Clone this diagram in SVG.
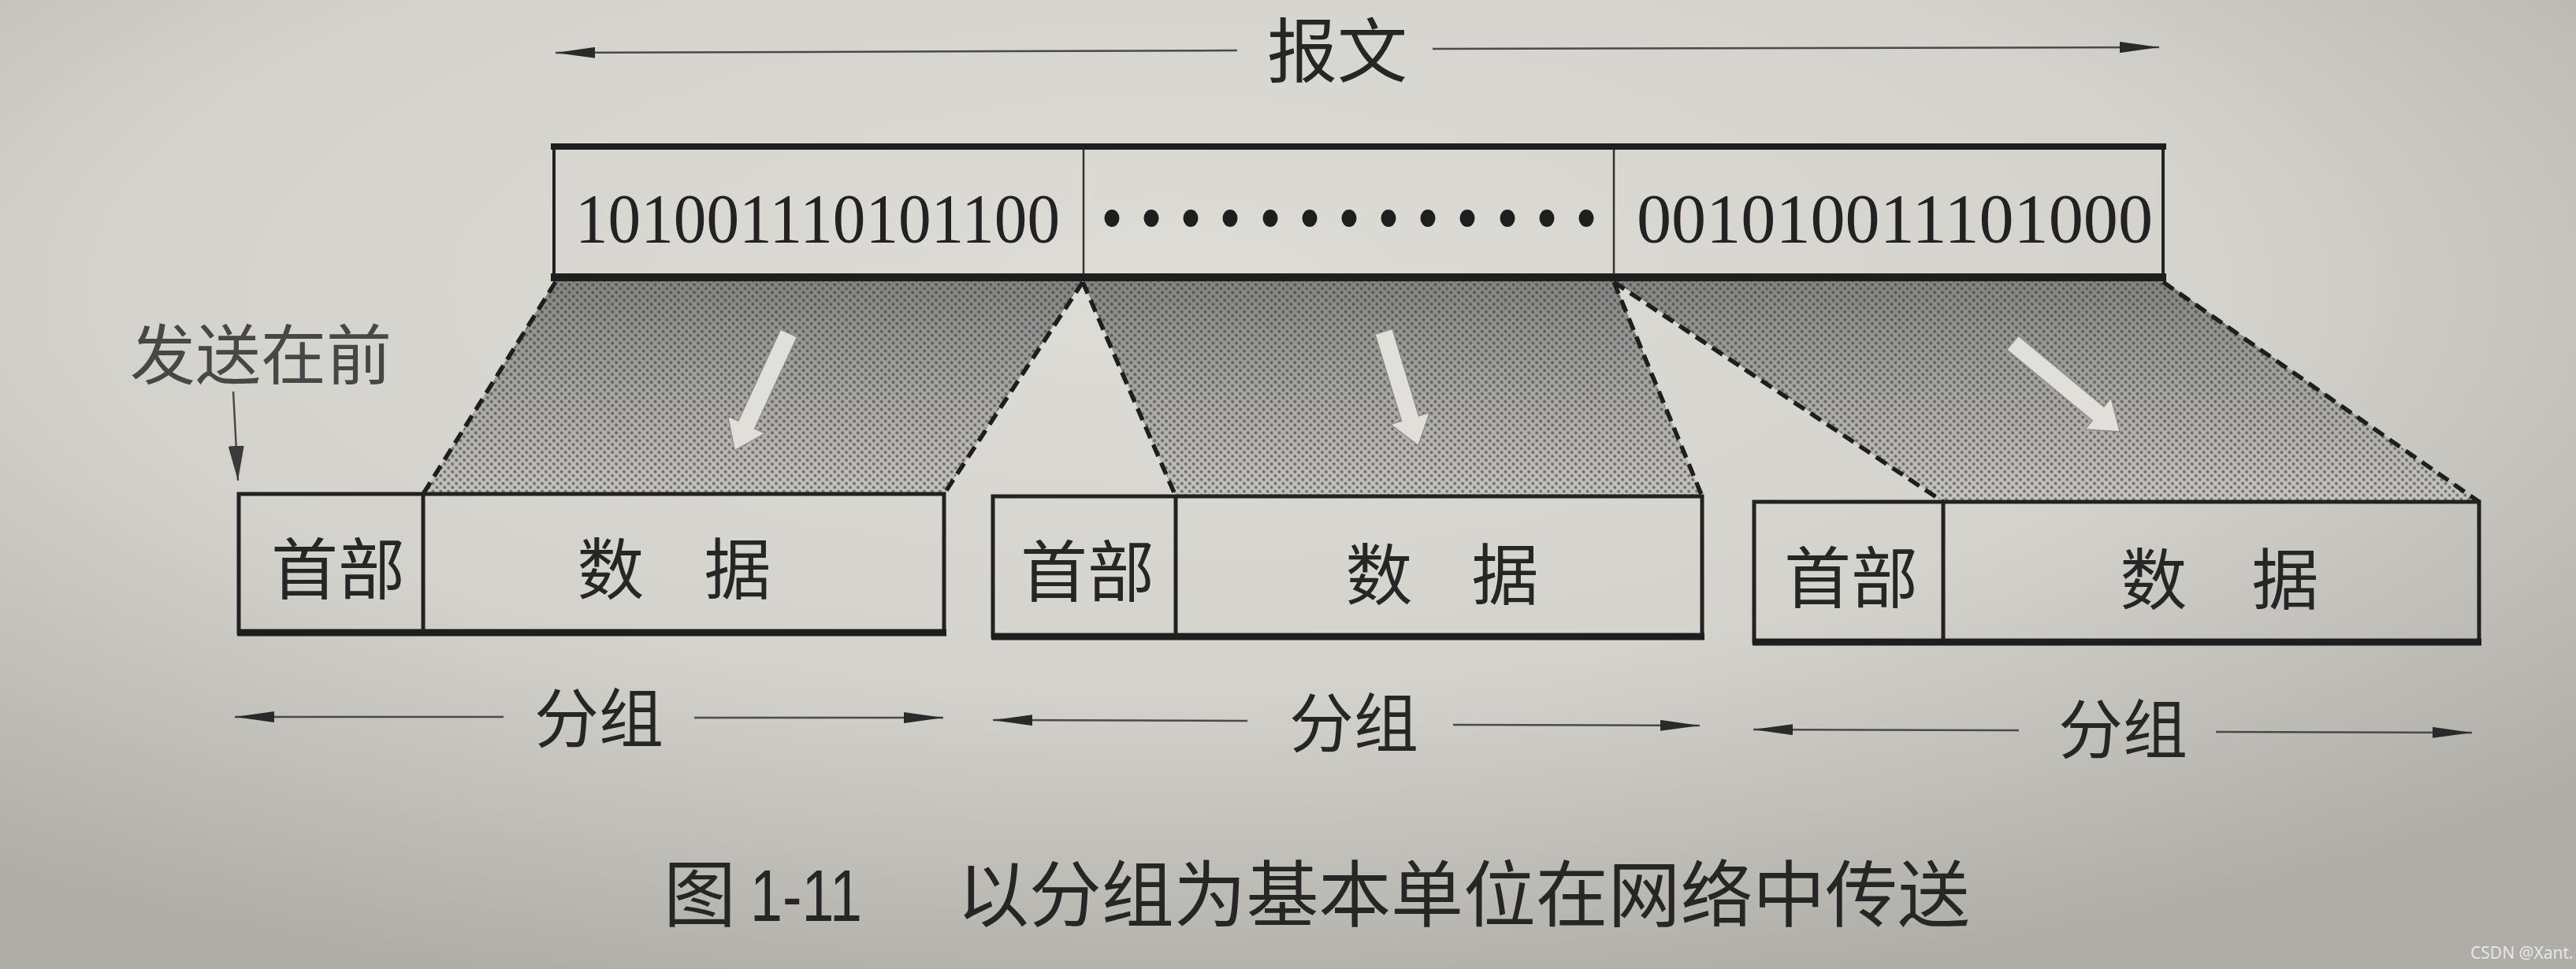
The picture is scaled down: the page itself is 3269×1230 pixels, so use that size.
<svg xmlns="http://www.w3.org/2000/svg" width="3269" height="1230" viewBox="0 0 3269 1230">
<defs>
<style>
.cjk{font-family:"Noto Sans CJK SC","Noto Sans",sans-serif;fill:#262626}
.bits{font-family:"Liberation Serif",serif;font-size:88px;fill:#222}
.box{fill:none;stroke:#222;stroke-width:5}
.thick{stroke:#1e1e1e;stroke-width:9}
.div{stroke:#333;stroke-width:2.5}
.dash{stroke:#1e1e1e;stroke-width:5.5;stroke-dasharray:16 9;fill:none}
.dim{stroke:#4a4a4a;stroke-width:2.5;fill:none}
.warrow{fill:#e0dfda;stroke:#8e8e89;stroke-width:1.5}
</style>
<radialGradient id="bg" cx="45%" cy="30%" r="75%">
<stop offset="0" stop-color="#dddcd7"/>
<stop offset="0.55" stop-color="#d3d2cd"/>
<stop offset="1" stop-color="#aeada8"/>
</radialGradient>
<linearGradient id="shade" gradientUnits="userSpaceOnUse" x1="0" y1="356" x2="0" y2="640">
<stop offset="0" stop-color="#858582"/>
<stop offset="1" stop-color="#c8c7c2"/>
</linearGradient>
<pattern id="ht" width="7" height="7" patternUnits="userSpaceOnUse" patternTransform="rotate(45)">
<circle cx="3.5" cy="3.5" r="2.1" fill="#2b2b2b" fill-opacity="0.55"/>
</pattern>
<marker id="ah" markerUnits="userSpaceOnUse" viewBox="0 0 50 14" markerWidth="50" markerHeight="14" refX="50" refY="7" orient="auto">
<path d="M0,0 L50,7 L0,14 Z" fill="#2a2a2a"/>
</marker>
<marker id="ah2" markerUnits="userSpaceOnUse" viewBox="0 0 44 20" markerWidth="44" markerHeight="20" refX="44" refY="10" orient="auto">
<path d="M0,0 L44,10 L0,20 Z" fill="#3a3a3a"/>
</marker>
</defs>

<rect x="0" y="0" width="3269" height="1230" fill="url(#bg)"/>

<!-- shaded projections -->
<g id="shading">
<polygon points="705,356 1374,356 1198,627 537,627" fill="url(#shade)"/>
<polygon points="1374,356 2048,356 2160,630 1492,630" fill="url(#shade)"/>
<polygon points="2048,356 2745,356 3146,637 2466,637" fill="url(#shade)"/>
<polygon points="705,356 1374,356 1198,627 537,627" fill="url(#ht)"/>
<polygon points="1374,356 2048,356 2160,630 1492,630" fill="url(#ht)"/>
<polygon points="2048,356 2745,356 3146,637 2466,637" fill="url(#ht)"/>
<line class="dash" x1="705" y1="358" x2="537" y2="627"/>
<line class="dash" x1="1374" y1="358" x2="1198" y2="627"/>
<line class="dash" x1="1374" y1="358" x2="1492" y2="630"/>
<line class="dash" x1="2048" y1="358" x2="2160" y2="630"/>
<line class="dash" x1="2048" y1="358" x2="2466" y2="637"/>
<line class="dash" x1="2745" y1="358" x2="3146" y2="637"/>
<path class="warrow" transform="translate(1001,423) rotate(114.8)" d="M0,-11.5 H128 V-26 L164,0 L128,26 V11.5 H0 Z"/>
<path class="warrow" transform="translate(1756,421) rotate(73.1)" d="M0,-11.5 H115 V-26 L151,0 L115,26 V11.5 H0 Z"/>
<path class="warrow" transform="translate(2554,435) rotate(39.7)" d="M0,-11.5 H141 V-26 L177,0 L141,26 V11.5 H0 Z"/>
</g>

<!-- message -->
<g id="message">
<rect x="703" y="186" width="2042" height="166" style="fill:none;stroke:#222;stroke-width:4"/>
<line class="thick" x1="699" y1="186" x2="2749" y2="186" style="stroke-width:8"/>
<line class="thick" x1="699" y1="352" x2="2749" y2="352" style="stroke-width:10"/>
<line class="div" x1="1375" y1="190" x2="1375" y2="348"/>
<line class="div" x1="2048" y1="190" x2="2048" y2="348"/>
<text class="bits" x="730" y="307" textLength="615" lengthAdjust="spacingAndGlyphs">101001110101100</text>
<g fill="#1e1e1e">
<ellipse cx="1411" cy="277" rx="9.5" ry="11"/>
<ellipse cx="1461" cy="277" rx="9.5" ry="11"/>
<ellipse cx="1511" cy="277" rx="9.5" ry="11"/>
<ellipse cx="1561" cy="277" rx="9.5" ry="11"/>
<ellipse cx="1612" cy="277" rx="9.5" ry="11"/>
<ellipse cx="1662" cy="277" rx="9.5" ry="11"/>
<ellipse cx="1712" cy="277" rx="9.5" ry="11"/>
<ellipse cx="1762" cy="277" rx="9.5" ry="11"/>
<ellipse cx="1812" cy="277" rx="9.5" ry="11"/>
<ellipse cx="1862" cy="277" rx="9.5" ry="11"/>
<ellipse cx="1913" cy="277" rx="9.5" ry="11"/>
<ellipse cx="1963" cy="277" rx="9.5" ry="11"/>
<ellipse cx="2013" cy="277" rx="9.5" ry="11"/>
</g>
<text class="bits" x="2077" y="307" textLength="655" lengthAdjust="spacingAndGlyphs">001010011101000</text>
</g>

<!-- packets -->
<g id="packet1">
<rect class="box" x="303" y="627" width="895" height="176"/>
<line class="thick" x1="301" y1="803" x2="1201" y2="803"/>
<line class="box" x1="537" y1="627" x2="537" y2="803"/>
<text class="cjk" x="429" y="754" font-size="85" text-anchor="middle">首部</text>
<text class="cjk" font-size="85" text-anchor="middle" y="754"><tspan x="775">数</tspan><tspan x="936">据</tspan></text>
</g>
<g id="packet2">
<rect class="box" x="1260" y="630" width="900" height="178"/>
<line class="thick" x1="1258" y1="808" x2="2163" y2="808"/>
<line class="box" x1="1492" y1="630" x2="1492" y2="808"/>
<text class="cjk" x="1380" y="757" font-size="85" text-anchor="middle">首部</text>
<text class="cjk" font-size="85" text-anchor="middle" y="761"><tspan x="1750">数</tspan><tspan x="1910">据</tspan></text>
</g>
<g id="packet3">
<rect class="box" x="2226" y="637" width="920" height="178"/>
<line class="thick" x1="2224" y1="815" x2="3149" y2="815"/>
<line class="box" x1="2466" y1="637" x2="2466" y2="815"/>
<text class="cjk" x="2349" y="765" font-size="85" text-anchor="middle">首部</text>
<text class="cjk" font-size="85" text-anchor="middle" y="767"><tspan x="2733">数</tspan><tspan x="2900">据</tspan></text>
</g>

<!-- labels -->
<g id="labels">
<text class="cjk" x="1697" y="97" font-size="89" text-anchor="middle">报文</text>
<text class="cjk" x="165" y="481" font-size="83" style="fill:#474747">发送在前</text>
<text class="cjk" x="760" y="942" font-size="82" text-anchor="middle">分组</text>
<text class="cjk" x="1718" y="948" font-size="82" text-anchor="middle">分组</text>
<text class="cjk" x="2694" y="956" font-size="82" text-anchor="middle">分组</text>
</g>

<!-- connectors -->
<g id="connectors">
<line class="dim" x1="1570" y1="64" x2="705" y2="67" marker-end="url(#ah)"/>
<line class="dim" x1="1818" y1="62" x2="2740" y2="60" marker-end="url(#ah)"/>
<line class="dim" x1="296" y1="497" x2="302" y2="610" marker-end="url(#ah2)"/>
<line class="dim" x1="639" y1="910" x2="298" y2="910" marker-end="url(#ah)"/>
<line class="dim" x1="881" y1="911" x2="1197" y2="911" marker-end="url(#ah)"/>
<line class="dim" x1="1583" y1="915" x2="1260" y2="914" marker-end="url(#ah)"/>
<line class="dim" x1="1844" y1="920" x2="2157" y2="921" marker-end="url(#ah)"/>
<line class="dim" x1="2562" y1="927" x2="2225" y2="926" marker-end="url(#ah)"/>
<line class="dim" x1="2812" y1="929" x2="3137" y2="930" marker-end="url(#ah)"/>
</g>

<!-- caption -->
<g id="caption">
<text class="cjk" x="842" y="1169" font-size="92">图</text>
<text x="952" y="1169" font-size="92" textLength="142" lengthAdjust="spacingAndGlyphs" style="font-family:'Liberation Sans',sans-serif;fill:#262626">1-11</text>
<text class="cjk" x="1214" y="1169" font-size="92" textLength="1286" lengthAdjust="spacing">以分组为基本单位在网络中传送</text>
</g>

<text x="3135" y="1217" font-size="21" style="font-family:'Noto Sans',sans-serif;fill:#f2f2f2;fill-opacity:0.85">CSDN @Xant.</text>
</svg>
